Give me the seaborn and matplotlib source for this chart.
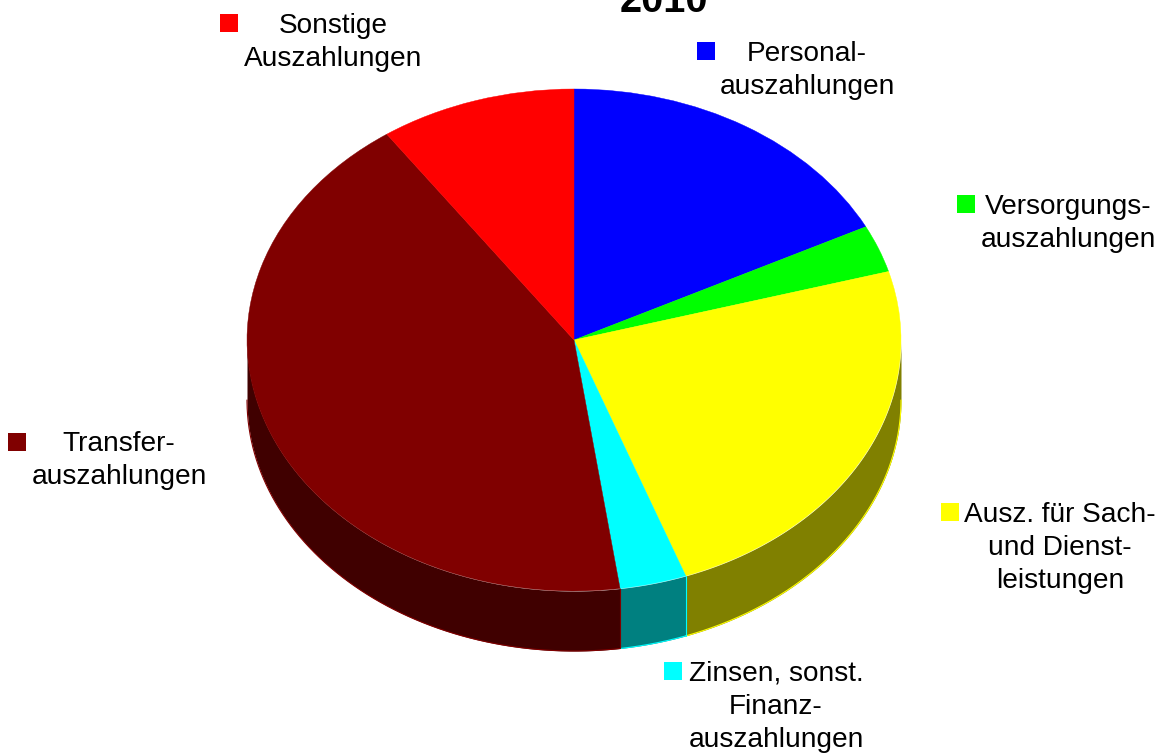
import numpy as np
import seaborn as sns
import matplotlib.pyplot as plt

# shares, clockwise from the top (percent)
categories = [
    "Personal-\nauszahlungen",
    "Versorgungs-\nauszahlungen",
    "Ausz. für Sach-\nund Dienst-\nleistungen",
    "Zinsen, sonst.\nFinanz-\nauszahlungen",
    "Transfer-\nauszahlungen",
    "Sonstige\nAuszahlungen",
]
shares = [17.55, 3.05, 23.85, 3.3, 42.55, 9.7]
title = "2010"

colors = ["#0000ff", "#00ff00", "#ffff00", "#00ffff", "#800000", "#ff0000"]
side_colors = ["#000080", "#008000", "#808000", "#008080", "#400000", "#800000"]

# label layout in pixels: text centre x, text centre y, marker x, marker y
label_pos = [
    (807, 70, 706, 51),
    (1068, 223, 966, 204),
    (1060, 548, 950, 512),
    (776, 707, 673, 671),
    (119, 460, 17, 442),
    (333, 42, 229, 23),
]

W, H = 1160, 753
CX, CY = 574, 340
RX, RY = 327, 251
DEPTH = 60

sns.set_theme(style="white")
plt.rcParams["font.family"] = ["Liberation Sans", "DejaVu Sans"]

fig = plt.figure(figsize=(W / 100, H / 100), dpi=100)
ax = fig.add_axes([0, 0, 1, 1])

# side walls, only the front half of the pie shows
depth = DEPTH / RY
edges = np.concatenate([[0], np.cumsum(shares)]) / sum(shares) * 2 * np.pi
for i in range(len(shares)):
    a = max(edges[i], np.pi / 2)
    b = min(edges[i + 1], 3 * np.pi / 2)
    if a >= b:
        continue
    t = np.linspace(a, b, 200)
    x, y = np.sin(t), np.cos(t)
    ax.fill_between(x, y, y - depth, color=side_colors[i], lw=0, zorder=1)
    ax.plot(x, y - depth, color=colors[i], lw=0.8, zorder=2)
    if a > np.pi / 2:
        ax.plot([x[0], x[0]], [y[0], y[0] - depth], color=colors[i], lw=0.8, zorder=2)

wedges, _ = ax.pie(
    shares,
    colors=colors,
    startangle=90,
    counterclock=False,
    wedgeprops={"lw": 0.3, "zorder": 3},
)
for w, c in zip(wedges, colors):
    w.set_edgecolor(c)
    w.set_zorder(3)

# squash the pie into an ellipse
ax.set_aspect("auto")
ax.set_xlim(-CX / RX, (W - CX) / RX)
ax.set_ylim(-(H - CY) / RY, CY / RY)
ax.axis("off")

# overlay in picture pixels for the labels
lab = fig.add_axes([0, 0, 1, 1])
lab.set_xlim(0, W)
lab.set_ylim(H, 0)
lab.axis("off")
lab.patch.set_alpha(0)

for text, (tx, ty, mx, my), c in zip(categories, label_pos, colors):
    lab.text(tx, ty, text, ha="center", va="center", fontsize=20.2, color="black",
             linespacing=1.35, multialignment="center")
    lab.scatter([mx], [my], marker="s", s=170, color=c, linewidths=0)

lab.text(664, 12, title, ha="center", va="baseline", fontsize=28.5, fontweight="bold",
         color="black")

fig.savefig("out.png", dpi=100)
